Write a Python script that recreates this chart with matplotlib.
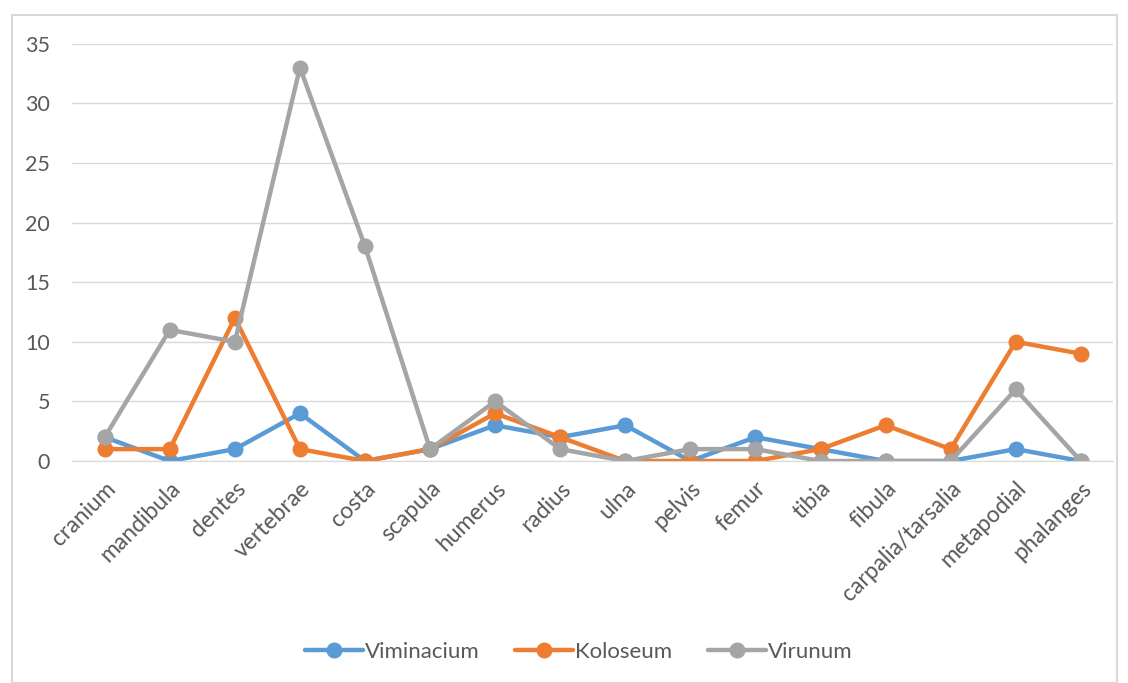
import matplotlib
matplotlib.use("Agg")
import matplotlib.pyplot as plt
from matplotlib.patches import Rectangle

categories = ["cranium", "mandibula", "dentes", "vertebrae", "costa", "scapula",
              "humerus", "radius", "ulna", "pelvis", "femur", "tibia", "fibula",
              "carpalia/tarsalia", "metapodial", "phalanges"]
viminacium = [2, 0, 1, 4, 0, 1, 3, 2, 3, 0, 2, 1, 0, 0, 1, 0]
koloseum = [1, 1, 12, 1, 0, 1, 4, 2, 0, 0, 0, 1, 3, 1, 10, 9]
virunum = [2, 11, 10, 33, 18, 1, 5, 1, 0, 1, 1, 0, 0, 0, 6, 0]

series = [("Viminacium", viminacium, "#5B9BD5"),
          ("Koloseum", koloseum, "#ED7D31"),
          ("Virunum", virunum, "#A5A5A5")]

plt.rcParams["font.family"] = ["Lato", "DejaVu Sans"]
txt = "#595959"

fig = plt.figure(figsize=(11.28, 6.83), dpi=100)
ax = fig.add_axes([0.064, 0.325, 0.923, 0.611])

x = range(len(categories))
for name, vals, col in series:
    ax.plot(x, vals, color=col, lw=3.2, marker="o", ms=10.5, label=name,
            solid_joinstyle="round", solid_capstyle="round")

ax.set_xlim(-0.5, len(categories) - 0.5)
ax.set_ylim(0, 35)
ax.set_yticks(range(0, 36, 5))
ax.set_xticks(list(x))
ax.set_xticklabels(categories, rotation=45, ha="right", rotation_mode="anchor",
                   fontsize=16.5, color=txt)
ax.tick_params(axis="y", labelsize=15.5, labelcolor=txt, length=0, pad=16)
ax.tick_params(axis="x", length=0, pad=12)
ax.grid(axis="y", color="#D9D9D9", lw=1)
ax.set_axisbelow(True)
for s in ax.spines.values():
    s.set_visible(False)
ax.spines["bottom"].set_visible(True)
ax.spines["bottom"].set_color("#D9D9D9")

leg = fig.legend(loc="center", bbox_to_anchor=(0.513, 0.045), ncol=3, frameon=False,
                 fontsize=16, handlelength=2.6, columnspacing=1.6, handletextpad=0.1)
for t in leg.get_texts():
    t.set_color(txt)

fig.patches.append(Rectangle((12 / 1128, 0.0), 1105 / 1128, 1 - 15 / 683,
                             transform=fig.transFigure, fill=False,
                             edgecolor="#D9D9D9", lw=1.5))

fig.savefig("out.png", dpi=100, facecolor="white")
